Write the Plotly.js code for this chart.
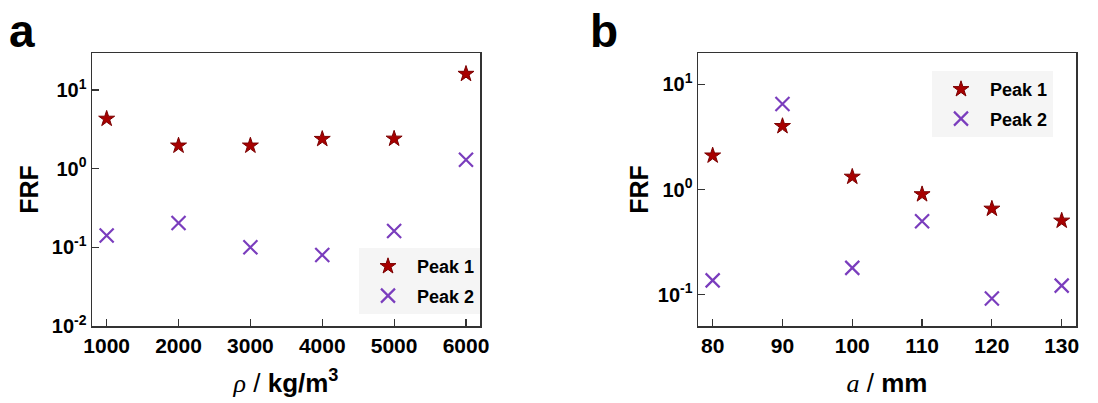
<!DOCTYPE html>
<html>
<head>
<meta charset="utf-8">
<script src="https://cdn.plot.ly/plotly-3.0.1.min.js"></script>
<style>html,body{margin:0;padding:0;background:#fff;}#chart{width:1098px;height:403px;}</style>
</head>
<body>
<div id="chart"></div>
<script>
// ---- data ----
const rho = [1000, 2000, 3000, 4000, 5000, 6000];
const rhoPeak1 = [4.3, 1.96, 1.96, 2.38, 2.4, 16];
const rhoPeak2 = [0.141, 0.204, 0.1, 0.08, 0.161, 1.3];

const aMM = [80, 90, 100, 110, 120, 130];
const aPeak1 = [2.1, 4.0, 1.32, 0.9, 0.656, 0.505];
const aPeak2 = [0.137, 6.5, 0.18, 0.5, 0.092, 0.122];

const seriesNames = ["Peak 1", "Peak 2"];
const yTickValsA = [0.01, 0.1, 1, 10];
const yTickTextA = ["10<sup>-2</sup>", "10<sup>-1</sup>", "10<sup>0</sup>", "10<sup>1</sup>"];
const yTickValsB = [0.1, 1, 10];
const yTickTextB = ["10<sup>-1</sup>", "10<sup>0</sup>", "10<sup>1</sup>"];
const xTickValsA = rho;
const xTickValsB = aMM;

// ---- styles ----
const W = 1098, H = 403;
const FONT = "Arial, 'Liberation Sans', sans-serif";
const starMarker = {symbol: "star", size: 12, color: "#a80000", line: {color: "#7a0000", width: 1}};
const xMarker = {symbol: "x-thin-open", size: 14, color: "#7a3dbd", line: {color: "#7a3dbd", width: 2.2}};
const px = v => v / W;
const py = v => 1 - v / H;

const traces = [
  {x: rho, y: rhoPeak1, name: "\u2002" + seriesNames[0], type: "scatter", mode: "markers", marker: starMarker, xaxis: "x", yaxis: "y", legend: "legend", legendgroup: "a1"},
  {x: rho, y: rhoPeak2, name: "\u2002" + seriesNames[1], type: "scatter", mode: "markers", marker: xMarker, xaxis: "x", yaxis: "y", legend: "legend", legendgroup: "a2"},
  {x: aMM, y: aPeak1, name: "\u2002" + seriesNames[0], type: "scatter", mode: "markers", marker: starMarker, xaxis: "x2", yaxis: "y2", legend: "legend2", legendgroup: "b1"},
  {x: aMM, y: aPeak2, name: "\u2002" + seriesNames[1], type: "scatter", mode: "markers", marker: xMarker, xaxis: "x2", yaxis: "y2", legend: "legend2", legendgroup: "b2"}
];

const axisCommon = {
  showline: true, mirror: true, linecolor: "#333", linewidth: 1.5,
  ticks: "inside", ticklen: 7, tickwidth: 1.2, tickcolor: "#333",
  showgrid: false, zeroline: false,
  tickfont: {family: FONT, size: 21, color: "#000", weight: "bold"}
};

const yTitleFont = {family: FONT, size: 25, color: "#000", weight: "bold"};
const xTitleFont = {family: FONT, size: 26, color: "#000", weight: "normal"};

const layout = {
  width: W, height: H,
  margin: {l: 0, r: 0, t: 0, b: 0},
  paper_bgcolor: "#fff", plot_bgcolor: "#fff",
  showlegend: true,
  xaxis: Object.assign({}, axisCommon, {
    domain: [px(92), px(480)], range: [796, 6195],
    tickvals: xTickValsA, anchor: "y",
    title: {text: "<span style='font-family:\"Liberation Serif\",serif;font-style:italic'>ρ</span> / <b>kg/m<sup>3</sup></b>", font: xTitleFont, standoff: 18}
  }),
  yaxis: Object.assign({}, axisCommon, {
    type: "log", domain: [1 - 326 / H, 1 - 53 / H], range: [-2, 1.47],
    tickvals: yTickValsA, ticktext: yTickTextA, anchor: "x",
    tickfont: {family: FONT, size: 20, color: "#000", weight: "bold"},
    title: {text: "FRF", font: yTitleFont, standoff: 6}
  }),
  xaxis2: Object.assign({}, axisCommon, {
    domain: [px(698), px(1076)], range: [77.9, 132.05],
    tickvals: xTickValsB, anchor: "y2",
    title: {text: "<span style='font-family:\"Liberation Serif\",serif;font-style:italic'>a</span> / <b>mm</b>", font: xTitleFont, standoff: 18}
  }),
  yaxis2: Object.assign({}, axisCommon, {
    type: "log", domain: [1 - 326 / H, 1 - 53 / H], range: [-1.297, 1.297],
    tickvals: yTickValsB, ticktext: yTickTextB, anchor: "x2",
    tickfont: {family: FONT, size: 20, color: "#000", weight: "bold"},
    title: {text: "FRF", font: yTitleFont, standoff: 2}
  }),
  legend: {
    x: px(359), y: py(248), xanchor: "left", yanchor: "top",
    bgcolor: "#f5f5f5", borderwidth: 0, indentation: 9, tracegroupgap: 3,
    font: {family: FONT, size: 18, color: "#000", weight: "bold"}
  },
  legend2: {
    x: px(932), y: py(71), xanchor: "left", yanchor: "top",
    bgcolor: "#f5f5f5", borderwidth: 0, indentation: 9, tracegroupgap: 3,
    font: {family: FONT, size: 18, color: "#000", weight: "bold"}
  },
  annotations: [
    {text: "<b>a</b>", xref: "paper", yref: "paper", x: px(7), y: py(3), xanchor: "left", yanchor: "top", showarrow: false, font: {family: FONT, size: 46, color: "#000"}},
    {text: "<b>b</b>", xref: "paper", yref: "paper", x: px(588), y: py(3), xanchor: "left", yanchor: "top", showarrow: false, font: {family: FONT, size: 46, color: "#000"}}
  ]
};

Plotly.newPlot("chart", traces, layout, {displayModeBar: false, staticPlot: true});
</script>
</body>
</html>
